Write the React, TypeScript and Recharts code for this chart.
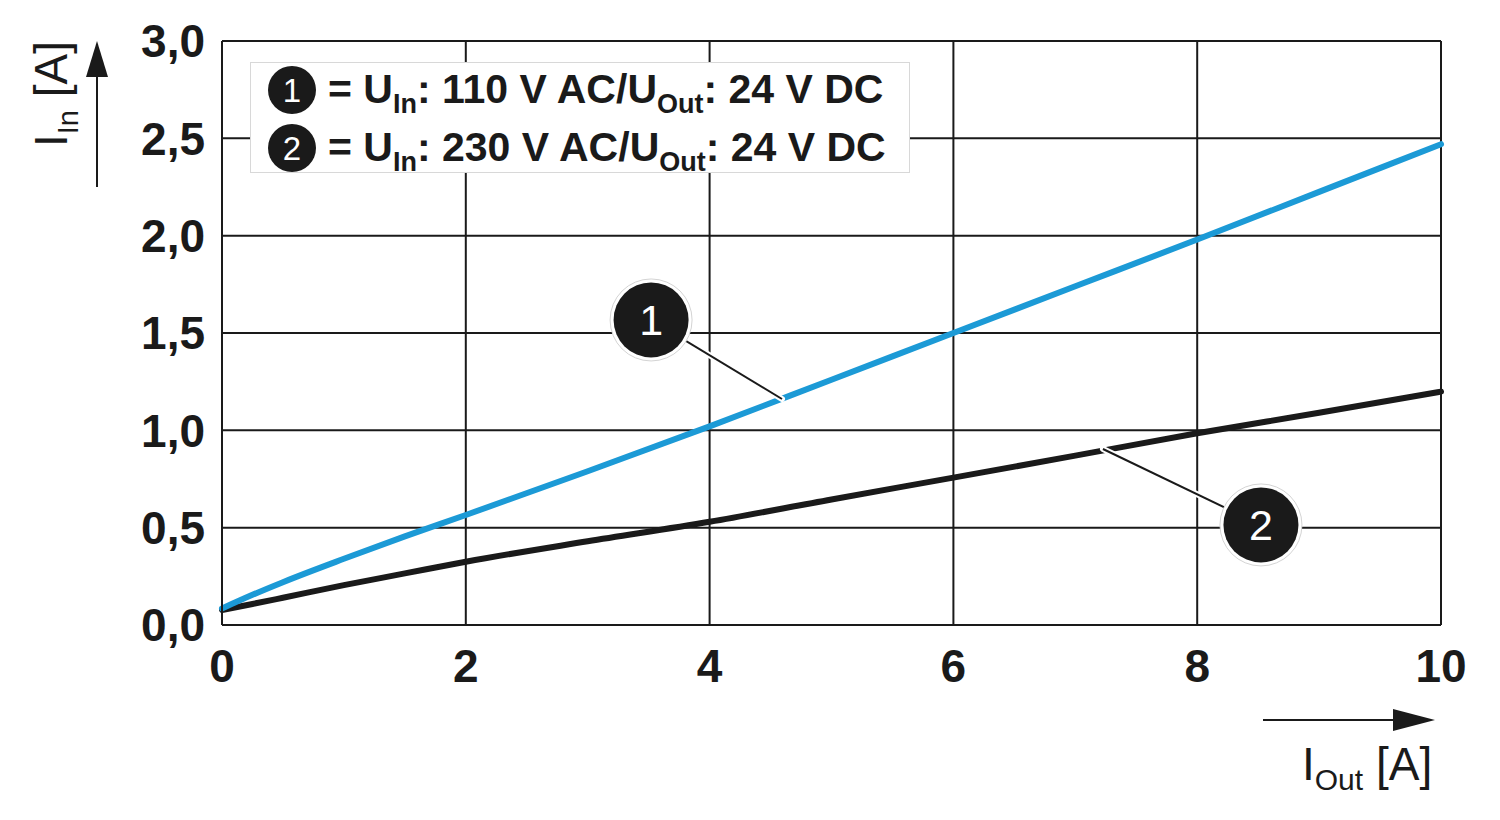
import React from "react"
import { LineChart, Line, XAxis, YAxis, CartesianGrid, Legend, ReferenceLine, ReferenceDot } from "recharts"

const FONT = '"Liberation Sans", Arial, Helvetica, sans-serif'
const INK = "#1a1a1a"
const BLUE = "#1c9ad6"

// output current I_Out [A]
const I_OUT = [0, 0.25, 0.5, 1, 1.5, 2, 3, 4, 5, 6, 7, 8, 9, 10]
// input current I_In [A], curve 1 (110 V AC in)
const I_IN_110 = [0.085, 0.155, 0.22, 0.34, 0.455, 0.565, 0.79, 1.02, 1.26, 1.5, 1.74, 1.98, 2.225, 2.47]
// input current I_In [A], curve 2 (230 V AC in)
const I_IN_230 = [0.077, 0.108, 0.14, 0.205, 0.265, 0.325, 0.43, 0.53, 0.645, 0.757, 0.87, 0.985, 1.09, 1.199]

const X_TICKS = [0, 2, 4, 6, 8, 10]
const Y_TICKS = [0, 0.5, 1, 1.5, 2, 2.5, 3]

const SERIES_INPUT = ["110 V AC", "230 V AC"]
const SERIES_OUTPUT = "24 V DC"

// callout bubbles: where the number sits and where its leader touches the curve
const CALLOUTS = [
  { n: "1", at: { x: 3.52, y: 1.567 }, to: { x: 4.594, y: 1.161 } },
  { n: "2", at: { x: 8.523, y: 0.514 }, to: { x: 7.227, y: 0.904 } },
]

const data = I_OUT.map((x, i) => ({ x, s1: I_IN_110[i], s2: I_IN_230[i] }))

const Bubble = ({ cx, cy, n }: { cx: number; cy: number; n: string }) => (
  <g>
    <circle cx={cx} cy={cy} r={41} fill="#fff" stroke="#d4d4d4" strokeWidth={1} />
    <circle cx={cx} cy={cy} r={37.5} fill={INK} />
    <text x={cx} y={cy + 15} textAnchor="middle" fill="#fff" fontSize={43} fontFamily={FONT}>{n}</text>
  </g>
)

const LegendBox = () => (
  <svg width={660} height={124} style={{ display: "block", overflow: "visible" }}>
    <rect x={0.5} y={0.5} width={659} height={110} fill="#fff" stroke="#d8d8d8" />
    {SERIES_INPUT.map((u, i) => {
      const cy = 28 + i * 58
      return (
        <g key={u}>
          <circle cx={42} cy={cy} r={24} fill={INK} />
          <text x={42} y={cy + 12} textAnchor="middle" fill="#fff" fontSize={33} fontFamily={FONT}>{i + 1}</text>
          <text x={78} y={cy + 13} fill={INK} fontSize={41} fontWeight={700} fontFamily={FONT}>
            = U<tspan fontSize={27} dy={10}>In</tspan>
            <tspan dy={-10}>: {u}/U</tspan>
            <tspan fontSize={27} dy={10}>Out</tspan>
            <tspan dy={-10}>: {SERIES_OUTPUT}</tspan>
          </text>
        </g>
      )
    })}
  </svg>
)

const YTitle = () => (
  <g>
    <text x={67} y={147} transform="rotate(-90, 67, 147)" fill={INK} fontSize={46} fontFamily={FONT}>
      I<tspan fontSize={29} dy={11}>In</tspan>
      <tspan dy={-11}> [A]</tspan>
    </text>
    <line x1={97} y1={187} x2={97} y2={72} stroke={INK} strokeWidth={2} />
    <polygon points="97,41 86,77 108,77" fill={INK} />
  </g>
)

const XTitle = () => (
  <g>
    <line x1={1263} y1={720} x2={1398} y2={720} stroke={INK} strokeWidth={2} />
    <polygon points="1435,720 1393,709 1393,731" fill={INK} />
    <text x={1302} y={780} fill={INK} fontSize={46} fontFamily={FONT}>
      I<tspan fontSize={30} dy={10}>Out</tspan>
      <tspan dy={-10}> [A]</tspan>
    </text>
  </g>
)

export default function App() {
  return (
    <div style={{ position: "absolute", left: 0, top: 0, width: 1500, height: 820, background: "#fff", fontFamily: FONT }}>
      <LineChart width={1500} height={820} data={data} margin={{ top: 41, right: 59, bottom: 0, left: 0 }}>
        <CartesianGrid stroke={INK} strokeWidth={2} />
        <XAxis
          dataKey="x"
          type="number"
          domain={[0, 10]}
          ticks={X_TICKS}
          height={195}
          tickLine={false}
          tickSize={0}
          tickMargin={24}
          axisLine={{ stroke: INK, strokeWidth: 2 }}
          tick={{ fill: INK, fontSize: 46, fontWeight: 700 }}
          label={{ content: () => <XTitle /> }}
        />
        <YAxis
          type="number"
          domain={[0, 3]}
          ticks={Y_TICKS}
          width={222}
          tickLine={false}
          tickSize={0}
          tickMargin={17}
          axisLine={{ stroke: INK, strokeWidth: 2 }}
          tick={{ fill: INK, fontSize: 46, fontWeight: 700 }}
          tickFormatter={(v: number) => v.toFixed(1).replace(".", ",")}
          label={{ content: () => <YTitle /> }}
        />
        <Line type="monotone" dataKey="s2" stroke={INK} strokeWidth={6} dot={false} strokeLinecap="round" isAnimationActive={false} />
        <Line type="monotone" dataKey="s1" stroke={BLUE} strokeWidth={6} dot={false} strokeLinecap="round" isAnimationActive={false} />
        {CALLOUTS.map((c) => (
          <ReferenceLine key={`w${c.n}`} segment={[c.to, c.at]} stroke="#fff" strokeWidth={6} strokeLinecap="round" />
        ))}
        {CALLOUTS.map((c) => (
          <ReferenceLine key={`k${c.n}`} segment={[c.to, c.at]} stroke={INK} strokeWidth={2} />
        ))}
        {CALLOUTS.map((c) => (
          <ReferenceDot key={`d${c.n}`} x={c.at.x} y={c.at.y} r={41} shape={(p: any) => <Bubble cx={p.cx} cy={p.cy} n={c.n} />} />
        ))}
        <Legend
          layout="vertical"
          align="center"
          verticalAlign="middle"
          content={() => <LegendBox />}
          wrapperStyle={{ left: 250, top: 62, width: 660, height: 124 }}
        />
      </LineChart>
    </div>
  )
}
